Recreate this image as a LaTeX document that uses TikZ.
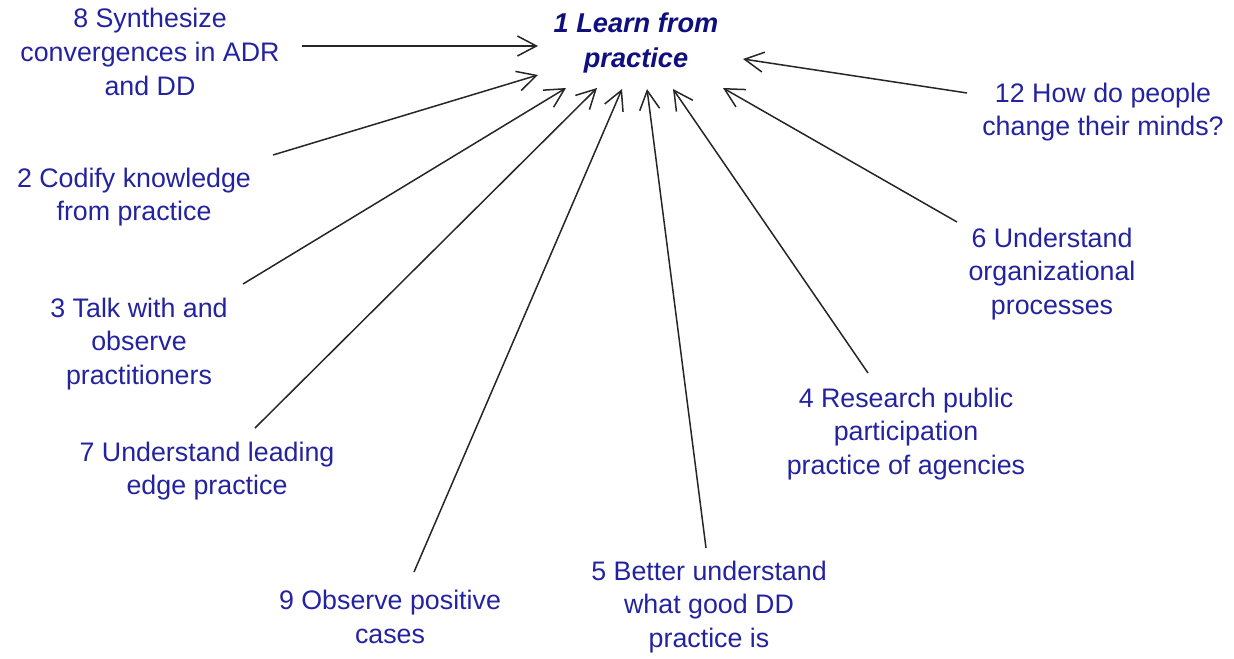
\documentclass[tikz,border=0pt]{standalone}
\usepackage{fontspec}
\setmainfont{Liberation Sans}
\usetikzlibrary{arrows.meta}
\definecolor{lbl}{RGB}{35,35,160}
\definecolor{hub}{RGB}{15,15,125}
\tikzset{
  lab/.style={align=center, text=lbl, inner sep=0pt, font=\fontsize{13.4}{16.8}\selectfont},
  hubtxt/.style={align=center, text=hub, inner sep=0pt, font=\fontsize{13.6}{17.4}\selectfont\bfseries\itshape},
  link/.style={draw=black!85, line width=0.75pt, -{Straight Barb[length=9.5pt,width=10pt,line width=0.75pt]}}
}
\begin{document}
\begin{tikzpicture}[x=0.5pt,y=-0.5pt]
\useasboundingbox (0,0) rectangle (1234,658);
\node[hubtxt] (n1) at (636,43) {1 Learn from\\practice};
\node[lab] (n8) at (150,52) {8 Synthesize\\convergences in ADR\\and DD};
\node[lab] (n12) at (1103,112) {12 How do people\\change their minds?};
\node[lab] (n2) at (134,197) {2 Codify knowledge\\from practice};
\node[lab] (n6) at (1052,274) {6 Understand\\organizational\\processes};
\node[lab] (n3) at (139,344) {3 Talk with and\\observe\\practitioners};
\node[lab] (n4) at (906,434) {4 Research public\\participation\\practice of agencies};
\node[lab] (n7) at (207,471) {7 Understand leading\\edge practice};
\node[lab] (n9) at (390,617) {9 Observe positive\\cases};
\node[lab] (n5) at (709,607) {5 Better understand\\what good DD\\practice is};
% connector ends
\coordinate (s8) at (302,46);  \coordinate (t8) at (538,46);
\coordinate (s12) at (967,93); \coordinate (t12) at (743,59);
\coordinate (s2) at (273,155); \coordinate (t2) at (538,75);
\coordinate (s3) at (243,284); \coordinate (t3) at (566,88);
\coordinate (s7) at (255,428); \coordinate (t7) at (597,88);
\coordinate (s9) at (414,572); \coordinate (t9) at (622,89);
\coordinate (s5) at (706,548); \coordinate (t5) at (647,89);
\coordinate (s4) at (868,373); \coordinate (t4) at (673,89);
\coordinate (s6) at (957,222); \coordinate (t6) at (723,88);
\draw[link] (s8) -- (t8);
\draw[link] (s12) -- (t12);
\draw[link] (s2) -- (t2);
\draw[link] (s3) -- (t3);
\draw[link] (s7) -- (t7);
\draw[link] (s9) -- (t9);
\draw[link] (s5) -- (t5);
\draw[link] (s4) -- (t4);
\draw[link] (s6) -- (t6);
\end{tikzpicture}
\end{document}
